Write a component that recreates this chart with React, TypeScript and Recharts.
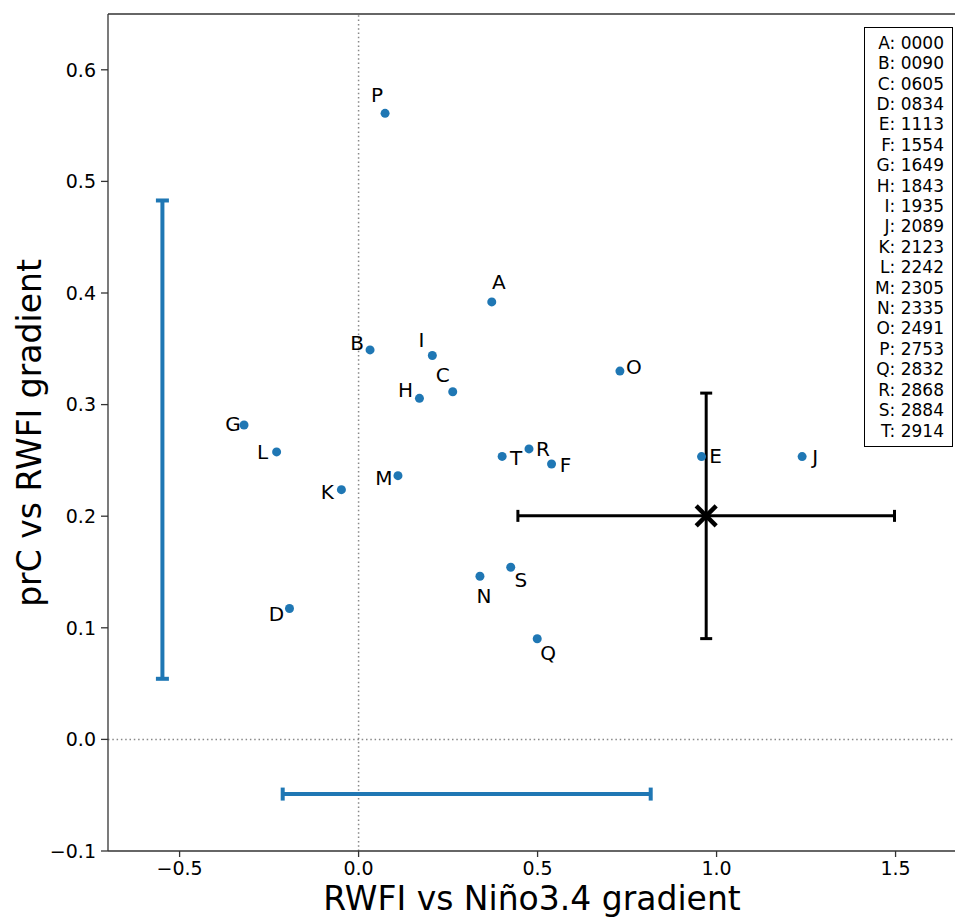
import React from "react";
import { ScatterChart, Scatter, XAxis, YAxis, ReferenceLine, ErrorBar } from "recharts";

// site labels and ids (the key box on the right)
const labels = ["A", "B", "C", "D", "E", "F", "G", "H", "I", "J", "K", "L", "M", "N", "O", "P", "Q", "R", "S", "T"];
const siteIds = ["0000", "0090", "0605", "0834", "1113", "1554", "1649", "1843", "1935", "2089", "2123", "2242", "2305", "2335", "2491", "2753", "2832", "2868", "2884", "2914"];

// RWFI vs Niño3.4 gradient
const xVals = [0.372, 0.032, 0.263, -0.193, 0.958, 0.539, -0.32, 0.17, 0.206, 1.239, -0.048, -0.229, 0.11, 0.339, 0.73, 0.074, 0.499, 0.476, 0.425, 0.401];
// prC vs RWFI gradient
const yVals = [0.392, 0.349, 0.3115, 0.1173, 0.2534, 0.2468, 0.2817, 0.3056, 0.344, 0.2534, 0.2238, 0.2576, 0.2363, 0.1462, 0.33, 0.561, 0.0902, 0.2603, 0.1543, 0.2536];

// reference estimate (black cross) with its uncertainty
const refX = 0.971;
const refY = 0.2003;
const refXErr = 0.526;
const refYErr = 0.11;

// spread of the sites (blue bars): centre and half-width
const spreadX = { x: 0.302, y: -0.049, err: 0.514 };
const spreadY = { x: -0.548, y: 0.2686, err: 0.2143 };

const xTicks = [-0.5, 0, 0.5, 1.0, 1.5];
const yTicks = [-0.1, 0, 0.1, 0.2, 0.3, 0.4, 0.5, 0.6];

// where each letter sits relative to its dot (text centre, px)
const labelOffset: Record<string, [number, number]> = {
  A: [7, -20], B: [-13, -7], C: [-10, -17], D: [-13, 6], E: [14, -1],
  F: [14, 1], G: [-11, -1], H: [-14, -8], I: [-11, -15], J: [13, 0],
  K: [-14, 2], L: [-14, 0], M: [-14, 2], N: [4, 20], O: [14, -4],
  P: [-8, -18], Q: [11, 14], R: [14, 0], S: [10, 13], T: [14, 2],
};

const points = labels.map((l, i) => ({ label: l, x: xVals[i], y: yVals[i] }));
const refData = [{ x: refX, y: refY, ex: refXErr, ey: refYErr }];
const spreadXData = [{ x: spreadX.x, y: spreadX.y, e: spreadX.err }];
const spreadYData = [{ x: spreadY.x, y: spreadY.y, e: spreadY.err }];

const FONT = "DejaVu Sans, sans-serif";
const BLUE = "#1f77b4";
const AXIS = "#333";

const fmt = (v: number) => (v < 0 ? `\u2212${Math.abs(v).toFixed(1)}` : v.toFixed(1));

const Dot = (props: any) => {
  const { cx, cy, payload } = props;
  const [dx, dy] = labelOffset[payload.label] ?? [10, 0];
  return (
    <g>
      <circle cx={cx} cy={cy} r={4.5} fill={BLUE} />
      {/* baseline = centre + ~0.36em */}
      <text x={cx + dx} y={cy + dy + 7} textAnchor="middle" fontSize={20} fontFamily={FONT} fill="#000">
        {payload.label}
      </text>
    </g>
  );
};

const Cross = (props: any) => {
  const { cx, cy } = props;
  const s = 10;
  return (
    <g stroke="#000" strokeWidth={4.5}>
      <line x1={cx - s} y1={cy - s} x2={cx + s} y2={cy + s} />
      <line x1={cx - s} y1={cy + s} x2={cx + s} y2={cy - s} />
    </g>
  );
};

const Nothing = () => <g />;

export default function App() {
  return (
    <div style={{ position: "absolute", left: 0, top: 0, width: 955, height: 917, overflow: "hidden", background: "#fff" }}>
      <ScatterChart width={962} height={917} margin={{ top: 14, right: 2, bottom: 0, left: 0 }}>
        <XAxis
          type="number"
          dataKey="x"
          domain={[-0.7, 1.68]}
          ticks={xTicks}
          tickFormatter={fmt}
          allowDataOverflow
          height={66}
          stroke={AXIS}
          strokeWidth={1.3}
          tickSize={6}
          tickMargin={5}
          tick={{ fontSize: 19, fontFamily: FONT, fill: "#000" }}
        />
        <YAxis
          type="number"
          dataKey="y"
          domain={[-0.1, 0.65]}
          ticks={yTicks}
          tickFormatter={fmt}
          allowDataOverflow
          width={108}
          stroke={AXIS}
          strokeWidth={1.3}
          tickSize={7}
          tickMargin={5}
          tick={{ fontSize: 19, fontFamily: FONT, fill: "#000" }}
        />
        {/* top and right frame */}
        <ReferenceLine y={0.65} stroke={AXIS} strokeWidth={1.3} />
        <ReferenceLine x={1.68} stroke={AXIS} strokeWidth={1.3} />

        {/* zero lines */}
        <ReferenceLine x={0} stroke="#888" strokeWidth={1.5} strokeDasharray="1.5 2.8" />
        <ReferenceLine y={0} stroke="#888" strokeWidth={1.5} strokeDasharray="1.5 2.8" />

        <Scatter data={points} shape={<Dot />} isAnimationActive={false} />

        {/* spread of sites */}
        <Scatter data={spreadXData} shape={<Nothing />} isAnimationActive={false}>
          <ErrorBar dataKey="e" direction="x" width={6.5} stroke={BLUE} strokeWidth={4} isAnimationActive={false} />
        </Scatter>
        <Scatter data={spreadYData} shape={<Nothing />} isAnimationActive={false}>
          <ErrorBar dataKey="e" direction="y" width={6.5} stroke={BLUE} strokeWidth={4} isAnimationActive={false} />
        </Scatter>

        {/* reference estimate */}
        <Scatter data={refData} shape={<Cross />} isAnimationActive={false}>
          <ErrorBar dataKey="ex" direction="x" width={6} stroke="#000" strokeWidth={3} isAnimationActive={false} />
          <ErrorBar dataKey="ey" direction="y" width={6} stroke="#000" strokeWidth={3} isAnimationActive={false} />
        </Scatter>
      </ScatterChart>

      {/* axis titles */}
      <svg
        width={955}
        height={917}
        style={{ position: "absolute", left: 0, top: 0, pointerEvents: "none" }}
        fontFamily={FONT}
        fontSize={33}
      >
        <text x={532} y={910} textAnchor="middle" fill="#000">
          RWFI vs Niño3.4 gradient
        </text>
        <text x={41} y={433} transform="rotate(-90 41 433)" textAnchor="middle" fill="#000">
          prC vs RWFI gradient
        </text>
      </svg>

      <div
        style={{
          position: "absolute",
          left: 864,
          top: 27,
          width: 89,
          height: 420,
          boxSizing: "border-box",
          border: "1px solid #000",
          background: "#fff",
          padding: "4.8px 8px 0 0",
          fontFamily: FONT,
          fontSize: 17,
          lineHeight: "20.4px",
          textAlign: "right",
          color: "#000",
          whiteSpace: "nowrap",
        }}
      >
        {labels.map((l, i) => (
          <div key={l}>
            {l}: {siteIds[i]}
          </div>
        ))}
      </div>
    </div>
  );
}
